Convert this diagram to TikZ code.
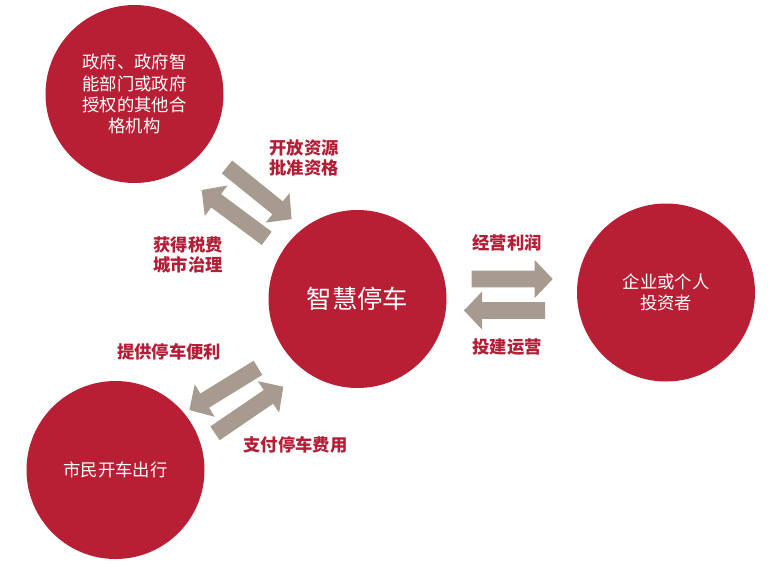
\documentclass[tikz,border=0pt]{standalone}
\usepackage{fontspec}
\setmainfont{Noto Sans CJK SC}
\definecolor{crim}{HTML}{B81F35}
\definecolor{agray}{HTML}{A69B8E}
\definecolor{lred}{HTML}{B31E36}
\begin{document}
\begin{tikzpicture}[x=0.75pt,y=-0.75pt,
  circ/.style={circle,fill=crim,minimum size=133.5pt,inner sep=0pt,text=white,align=center,font=\fontsize{13}{16}\selectfont},
  lbl/.style={text=lred,font=\fontsize{13}{15.4}\selectfont\bfseries,align=center,inner sep=0pt},
  pics/blockarrow/.style={code={\fill[agray] (0,-8.3) -- ({#1-18},-8.3) -- ({#1-18},-19) -- (#1,0) -- ({#1-18},19) -- ({#1-18},8.3) -- (0,8.3) -- cycle;}}]
\useasboundingbox (0,0) rectangle (768,565);
\node[circ] (gov) at (134.5,94) {政府、政府智\\能部门或政府\\授权的其他合\\格机构};
\node[circ,font=\fontsize{19}{22}\selectfont] (park) at (357.5,299) {智慧停车};
\node[circ] (inv) at (666,292.5) {企业或个人\\投资者};
\node[circ] (cit) at (115.5,470) {市民开车出行};
\coordinate (a1) at (227,167);
\coordinate (a2) at (266.7,238.3);
\coordinate (a3) at (471.7,279);
\coordinate (a4) at (545,310.5);
\coordinate (a5) at (258,367.8);
\coordinate (a6) at (215,433.3);
\pic[rotate=-38.9] at (a1) {blockarrow=83};
\pic[rotate=143.4] at (a2) {blockarrow=81};
\pic[rotate=0] at (a3) {blockarrow=81};
\pic[rotate=180] at (a4) {blockarrow=81};
\pic[rotate=211.6] at (a5) {blockarrow=80.6};
\pic[rotate=34.3] at (a6) {blockarrow=82.7};
\node[lbl] (l1) at (304,158) {开放资源\\批准资格};
\node[lbl] (l2) at (188,255) {获得税费\\城市治理};
\node[lbl] (l3) at (507,243) {经营利润};
\node[lbl] (l4) at (507,347) {投建运营};
\node[lbl] (l5) at (169,352) {提供停车便利};
\node[lbl] (l6) at (295.5,444.5) {支付停车费用};
\end{tikzpicture}
\end{document}
